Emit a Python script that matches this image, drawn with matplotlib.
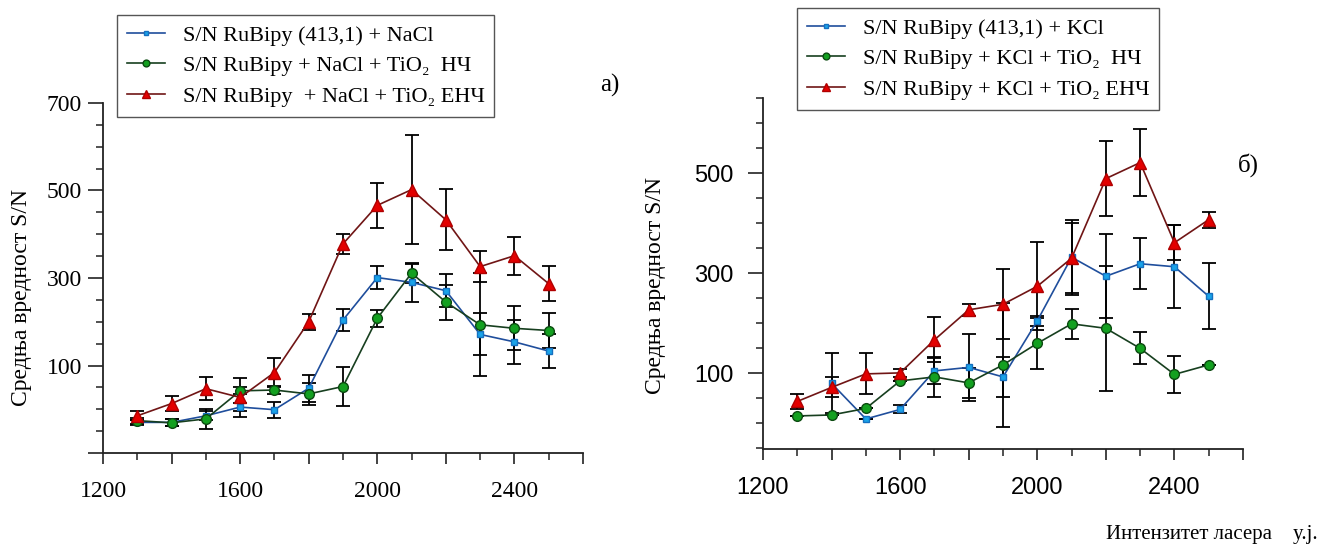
#!/usr/bin/env python3
"""S/N vs laser intensity, RuBipy with NaCl (a) and KCl (b)."""

import matplotlib
matplotlib.use("Agg")
import matplotlib.pyplot as plt
import numpy as np
from matplotlib.lines import Line2D
from matplotlib.ticker import MultipleLocator, FuncFormatter

plt.rcParams["font.family"] = ["Liberation Serif", "DejaVu Serif"]

intensity = [1300, 1400, 1500, 1600, 1700, 1800, 1900,
             2000, 2100, 2200, 2300, 2400, 2500]

# panel a) - NaCl
nacl_ref = [-30, -30, -15, 5, -1, 48, 204, 301, 290, 271, 171, 154, 133]
nacl_ref_err = [6, 8, 10, 10, 18, 31, 26, 26, 45, 38, 48, 50, 39]
nacl_np = [-26, -31, -22, 42, 44, 35, 52, 208, 311, 245, 193, 185, 180]
nacl_np_err = [7, 8, 23, 8, 10, 25, 45, 19, 22, 40, 118, 50, 40]
nacl_enp = [-15, 13, 47, 27, 84, 200, 378, 466, 502, 433, 326, 351, 287]
nacl_enp_err = [10, 17, 26, 45, 33, 18, 23, 52, 125, 70, 35, 43, 40]

# panel b) - KCl
kcl_ref = [np.nan, 80, 9, 28, 105, 112, 93, 205, 332, 294, 319, 313, 254]
kcl_ref_err = [0, 60, 0, 8, 26, 67, 40, 10, 75, 84, 51, 83, 66]
kcl_np = [15, 17, 30, 85, 93, 81, 117, 160, 199, 190, 150, 98, 117]
kcl_np_err = [0, 0, 0, 0, 40, 30, 124, 51, 30, 125, 32, 37, 0]
kcl_enp = [44, 72, 99, 101, 167, 227, 238, 274, 330, 489, 521, 361, 407]
kcl_enp_err = [15, 20, 41, 8, 45, 12, 70, 88, 70, 75, 67, 35, 16]

labels_a = ["S/N RuBipy (413,1) + NaCl",
            "S/N RuBipy + NaCl + TiO\u2082  НЧ",
            "S/N RuBipy  + NaCl + TiO\u2082 ЕНЧ"]
labels_b = ["S/N RuBipy (413,1) + KCl",
            "S/N RuBipy + KCl + TiO\u2082  НЧ",
            "S/N RuBipy + KCl + TiO\u2082 ЕНЧ"]

STYLES = [
    dict(color="#1f4e9c", marker="s", ms=5, mfc="#1aa3e8", mec="#1570c0", lw=1.2),
    dict(color="#173f1f", marker="o", ms=7, mfc="#13a020", mec="#0b4a10", lw=1.2),
    dict(color="#701515", marker="^", ms=8, mfc="#e30000", mec="#b00000", lw=1.2),
]

W, H = 1323, 548


def fig_rect(x0, y0, x1, y1):
    """Pixel box (top-left origin) -> figure fraction rect."""
    return [x0 / W, 1 - y1 / H, (x1 - x0) / W, (y1 - y0) / H]


def draw_panel(ax, series, ylim, shown, tick_family):
    for (y, err), style in zip(series, STYLES):
        ax.errorbar(intensity, y, yerr=err, fmt="none", ecolor="black",
                    elinewidth=1.3, capsize=5, capthick=1.3, zorder=2)
        ax.plot(intensity, y, zorder=3, **style)

    ax.set_xlim(1200, 2600)
    ax.set_ylim(*ylim)
    for side in ("top", "right"):
        ax.spines[side].set_visible(False)
    for side in ("left", "bottom"):
        ax.spines[side].set_linewidth(1.3)
        ax.spines[side].set_color("#222222")

    ax.xaxis.set_major_locator(MultipleLocator(200))
    ax.xaxis.set_minor_locator(MultipleLocator(100))
    ax.xaxis.set_major_formatter(
        FuncFormatter(lambda v, p: f"{v:.0f}" if round(v) % 400 == 0 else ""))
    ax.yaxis.set_major_locator(MultipleLocator(200, offset=100))
    ax.yaxis.set_minor_locator(MultipleLocator(50))
    ax.yaxis.set_major_formatter(
        FuncFormatter(lambda v, p: f"{v:.0f}" if round(v) in shown else ""))

    ax.tick_params(axis="both", which="major", direction="out", width=1.2,
                   color="#222222", labelsize=17)
    ax.tick_params(axis="x", which="major", length=8, pad=12)
    ax.tick_params(axis="y", which="major", length=11, pad=4)
    ax.tick_params(axis="both", which="minor", direction="out", length=5,
                   width=1.1, color="#222222")
    for lab in ax.get_xticklabels() + ax.get_yticklabels():
        lab.set_family(tick_family)


def add_legend(fig, labels, anchor):
    handles = [Line2D([], [], color=s["color"], lw=1.2, marker=s["marker"],
                      ms=s["ms"] * 0.7, mfc=s["mfc"], mec=s["mec"])
               for s in STYLES]
    leg = fig.legend(handles, labels, loc="upper left", bbox_to_anchor=anchor,
                     frameon=True, fancybox=False, framealpha=1,
                     edgecolor="#555555", fontsize=16, handlelength=1.7,
                     handletextpad=0.8, labelspacing=0.45, borderpad=0.45,
                     borderaxespad=0, numpoints=1)
    leg.get_frame().set_linewidth(1.0)


fig = plt.figure(figsize=(W / 100, H / 100), dpi=100)

ax_a = fig.add_axes(fig_rect(103, 103, 583, 453))
draw_panel(ax_a,
           [(nacl_ref, nacl_ref_err), (nacl_np, nacl_np_err),
            (nacl_enp, nacl_enp_err)],
           (-100, 700), {100, 300, 500, 700},
           ["Liberation Serif", "DejaVu Serif"])

ax_b = fig.add_axes(fig_rect(763, 98, 1243, 449))
draw_panel(ax_b,
           [(kcl_ref, kcl_ref_err), (kcl_np, kcl_np_err),
            (kcl_enp, kcl_enp_err)],
           (-51, 650), {100, 300, 500},
           ["Liberation Sans", "DejaVu Sans"])
ax_b.tick_params(axis="y", which="major", pad=10)

add_legend(fig, labels_a, (117 / W, 1 - 15 / H))
add_legend(fig, labels_b, (797 / W, 1 - 8 / H))

fig.text(22 / W, 1 - 298 / H, "Средња вредност S/N", rotation=90,
         ha="center", va="center", fontsize=17)
fig.text(655 / W, 1 - 285 / H, "Средња вредност S/N", rotation=90,
         ha="center", va="center", fontsize=17)
fig.text(610 / W, 1 - 85 / H, "a)", ha="center", va="center", fontsize=18)
fig.text(1248 / W, 1 - 165 / H, "б)", ha="center", va="center", fontsize=18)
fig.text(1318 / W, 1 - 535 / H, "Интензитет ласера    у.ј.",
         ha="right", va="center", fontsize=15)

fig.savefig("out.png", dpi=100)
